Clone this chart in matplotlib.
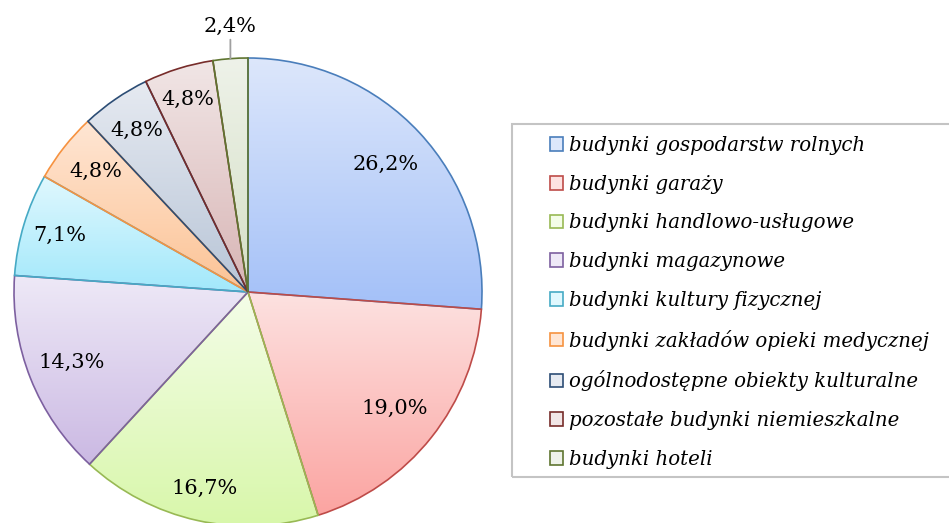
import numpy as np
import matplotlib
matplotlib.use("Agg")
import matplotlib.pyplot as plt
from matplotlib.patches import Rectangle, Patch
from matplotlib.colors import to_rgb

# dane (udział w %)
kategorie = [
    "budynki gospodarstw rolnych",
    "budynki garaży",
    "budynki handlowo-usługowe",
    "budynki magazynowe",
    "budynki kultury fizycznej",
    "budynki zakładów opieki medycznej",
    "ogólnodostępne obiekty kulturalne",
    "pozostałe budynki niemieszkalne",
    "budynki hoteli",
]
udzialy = [26.2, 19.0, 16.7, 14.3, 7.1, 4.8, 4.8, 4.8, 2.4]

kolor_gora = ["#dde7fb", "#fde2e1", "#f4fde8", "#eee9f7", "#e0f8fe", "#ffe6d4", "#e6eaf1", "#f1e6e6", "#eef2e9"]
kolor_dol = ["#a3c0f8", "#fba4a1", "#d8f7aa", "#cbb9e3", "#a2e8fb", "#fcc395", "#b8c5d7", "#d8b5b5", "#d5e0c6"]
kolor_krawedz = ["#4a7ebb", "#be4b48", "#98b954", "#7d60a0", "#46aac5", "#f69240", "#2c4d75", "#772c2a", "#5f7530"]

# odległość etykiet od środka (ułamek promienia), ostatnia etykieta poza kołem
odl_etykiet = [0.80, 0.80, 0.86, 0.81, 0.84, 0.83, 0.84, 0.86, 1.14]

FONT = "DejaVu Serif"

fig = plt.figure(figsize=(9.49, 5.23), dpi=100)
W, H = 949, 523
cx, cy, r = 248, 292, 234
ax = fig.add_axes([(cx - r) / W, (H - cy - r) / H, 2 * r / W, 2 * r / H])

wedges, _ = ax.pie(
    udzialy,
    startangle=90,
    counterclock=False,
    radius=1.0,
    wedgeprops=dict(linewidth=1.2, zorder=3),
)

for i, w in enumerate(wedges):
    w.set_facecolor("none")
    w.set_edgecolor(kolor_krawedz[i])
    th = np.radians(np.linspace(w.theta1, w.theta2, 200))
    ys = np.concatenate([[0.0], np.sin(th)])
    xs = np.concatenate([[0.0], np.cos(th)])
    t = np.linspace(0, 1, 256)[:, None]
    c1 = np.array(to_rgb(kolor_gora[i]))
    c2 = np.array(to_rgb(kolor_dol[i]))
    grad = (c1 * (1 - t) + c2 * t)[:, None, :]
    im = ax.imshow(grad, extent=[xs.min(), xs.max(), ys.min(), ys.max()],
                   origin="upper", aspect="auto", zorder=2, interpolation="bilinear")
    im.set_clip_path(w)

    kat = np.radians((w.theta1 + w.theta2) / 2)
    d = odl_etykiet[i]
    tekst = f"{udzialy[i]:.1f}%".replace(".", ",")
    if d > 1:
        ax.annotate(tekst, xy=(np.cos(kat), np.sin(kat)),
                    xytext=(np.cos(kat), np.sin(kat) * d),
                    ha="center", va="center", fontsize=15, family=FONT, color="black",
                    arrowprops=dict(arrowstyle="-", color="#a0a0a0", lw=1.3, shrinkA=1, shrinkB=0),
                    annotation_clip=False, zorder=5)
    else:
        ax.text(np.cos(kat) * d, np.sin(kat) * d, tekst, ha="center", va="center",
                fontsize=15, family=FONT, color="black", zorder=5)

ax.set_xlim(-1, 1)
ax.set_ylim(-1, 1)
ax.set_aspect("equal")
ax.axis("off")

# ramka legendy wychodzi poza prawą krawędź
fig.patches.append(Rectangle((512 / W, (H - 477) / H), 460 / W, 353 / H,
                             transform=fig.transFigure, fill=False,
                             edgecolor="#c4c4c4", linewidth=1.5))

uchwyty = [Patch(facecolor=kolor_gora[i], edgecolor=kolor_krawedz[i], linewidth=1.2)
           for i in range(len(kategorie))]
leg = fig.legend(uchwyty, kategorie, loc="upper left",
                 bbox_to_anchor=(550 / W, (H - 136) / H),
                 frameon=False, handlelength=0.68, handleheight=0.68, handletextpad=0.3,
                 labelspacing=1.0, borderaxespad=0, borderpad=0,
                 prop=dict(family=FONT, style="italic", size=14.2))

fig.savefig("out.png", dpi=100)
